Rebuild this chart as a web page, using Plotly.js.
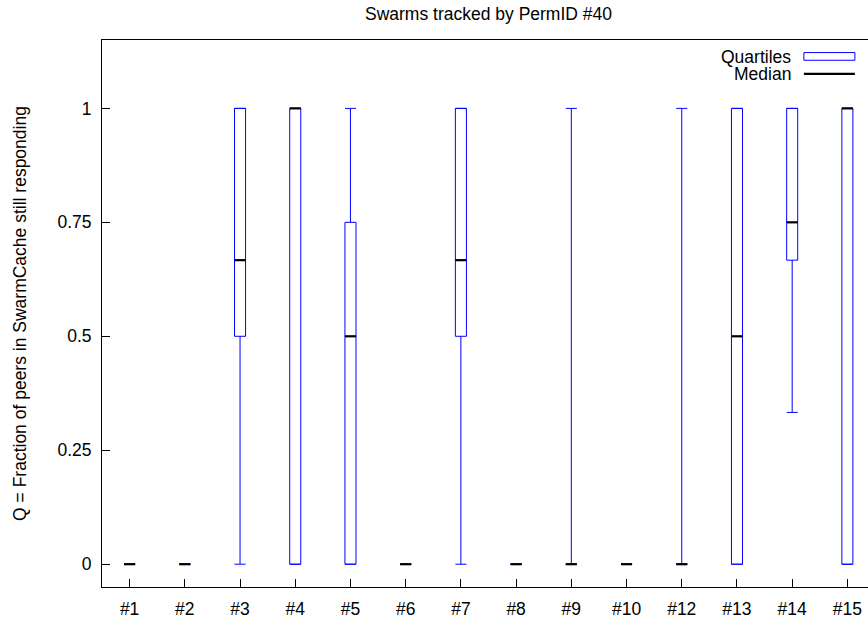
<!DOCTYPE html>
<html>
<head>
<meta charset="utf-8">
<script src="https://cdn.plot.ly/plotly-3.0.1.min.js"></script>
<style>
  html, body { margin: 0; padding: 0; overflow: hidden; background: #fff; }
  #chart { width: 880px; height: 618px; }
</style>
</head>
<body>
<div id="chart"></div>
<script>
// Swarm identifiers along the x axis
const swarmLabels = ['#1', '#2', '#3', '#4', '#5', '#6', '#7', '#8', '#9', '#10', '#12', '#13', '#14', '#15'];

// Five-number summaries of Q per swarm
const whiskerLow  = [0, 0, 0,     0, 0,    0, 0,     0, 0, 0, 0, 0,   0.333, 0];
const quartile1   = [0, 0, 0.5,   0, 0,    0, 0.5,   0, 0, 0, 0, 0,   0.667, 0];
const medianQ     = [0, 0, 0.667, 1, 0.5,  0, 0.667, 0, 0, 0, 0, 0.5, 0.75,  1];
const quartile3   = [0, 0, 1,     1, 0.75, 0, 1,     0, 0, 0, 0, 1,   1,     1];
const whiskerHigh = [0, 0, 1,     1, 1,    0, 1,     0, 1, 0, 1, 1,   1,     1];

const yTickVals = [0, 0.25, 0.5, 0.75, 1];
const yTickText = ['0', '0.25', '0.5', '0.75', '1'];

const HALF = 0.1;           // half width of a box, in category units
const BLUE = '#0000ff';
const FONT = 'Liberation Sans, Arial, sans-serif';
const FS = 17.5;

const pos = swarmLabels.map((_, i) => i);

// Build segment lists (null separated) for boxes, whiskers and medians
const boxX = [], boxY = [], whiskX = [], whiskY = [], medX = [], medY = [];
pos.forEach((x, i) => {
  boxX.push(x - HALF, x + HALF, x + HALF, x - HALF, x - HALF, null);
  boxY.push(quartile1[i], quartile1[i], quartile3[i], quartile3[i], quartile1[i], null);

  // upper whisker + cap
  whiskX.push(x, x, null, x - HALF, x + HALF, null);
  whiskY.push(quartile3[i], whiskerHigh[i], null, whiskerHigh[i], whiskerHigh[i], null);
  // lower whisker + cap
  whiskX.push(x, x, null, x - HALF, x + HALF, null);
  whiskY.push(quartile1[i], whiskerLow[i], null, whiskerLow[i], whiskerLow[i], null);

  medX.push(x - HALF, x + HALF, null);
  medY.push(medianQ[i], medianQ[i], null);
});

const traces = [
  { type: 'scatter', mode: 'lines', x: whiskX, y: whiskY,
    line: { color: BLUE, width: 1 }, hoverinfo: 'skip', showlegend: false },
  { type: 'scatter', mode: 'lines', x: boxX, y: boxY,
    line: { color: BLUE, width: 1 }, hoverinfo: 'skip', showlegend: false },
  { type: 'scatter', mode: 'lines', x: medX, y: medY,
    line: { color: '#000000', width: 2.2 }, hoverinfo: 'skip', showlegend: false }
];

const layout = {
  width: 880,
  height: 618,
  margin: { l: 102, r: 5, t: 40, b: 31 },
  paper_bgcolor: '#ffffff',
  plot_bgcolor: '#ffffff',
  font: { family: FONT, size: FS, color: '#000000' },
  showlegend: false,
  title: {
    text: 'Swarms tracked by PermID #40',
    font: { family: FONT, size: FS, color: '#000000' },
    xref: 'paper', x: 0.5, xanchor: 'center',
    yref: 'container', y: 1 - 14 / 618, yanchor: 'middle'
  },
  xaxis: {
    range: [-0.5, 13.5],
    tickmode: 'array',
    tickvals: pos,
    ticktext: swarmLabels,
    ticks: 'inside', ticklen: 8, tickwidth: 1, tickcolor: '#000',
    showline: true, linecolor: '#000', linewidth: 1, mirror: true,
    showgrid: false, zeroline: false,
    ticklabelstandoff: 6,
    tickfont: { family: FONT, size: FS, color: '#000' }
  },
  yaxis: {
    range: [-0.05, 1.15],
    tickmode: 'array',
    tickvals: yTickVals,
    ticktext: yTickText,
    ticks: 'inside', ticklen: 8, tickwidth: 1, tickcolor: '#000',
    showline: true, linecolor: '#000', linewidth: 1, mirror: true,
    showgrid: false, zeroline: false,
    ticklabelstandoff: 6,
    tickfont: { family: FONT, size: FS, color: '#000' },
    title: {
      text: 'Q = Fraction of peers in SwarmCache still responding',
      font: { family: FONT, size: FS, color: '#000' },
      standoff: 26
    },
    automargin: false
  },
  // Key in the upper right corner: label first, sample after
  annotations: [
    { xref: 'paper', yref: 'paper', x: 0.894, y: 0.969, xanchor: 'right', yanchor: 'middle',
      text: 'Quartiles', showarrow: false, font: { family: FONT, size: FS, color: '#000' } },
    { xref: 'paper', yref: 'paper', x: 0.894, y: 0.937, xanchor: 'right', yanchor: 'middle',
      text: 'Median', showarrow: false, font: { family: FONT, size: FS, color: '#000' } }
  ],
  shapes: [
    { type: 'rect', xref: 'paper', yref: 'paper', x0: 0.908, x1: 0.974, y0: 0.963, y1: 0.977,
      line: { color: BLUE, width: 1 }, fillcolor: 'rgba(0,0,0,0)' },
    { type: 'line', xref: 'paper', yref: 'paper', x0: 0.908, x1: 0.974, y0: 0.938, y1: 0.938,
      line: { color: '#000', width: 2.2 } }
  ]
};

Plotly.newPlot('chart', traces, layout, { displayModeBar: false, staticPlot: true });
</script>
</body>
</html>
